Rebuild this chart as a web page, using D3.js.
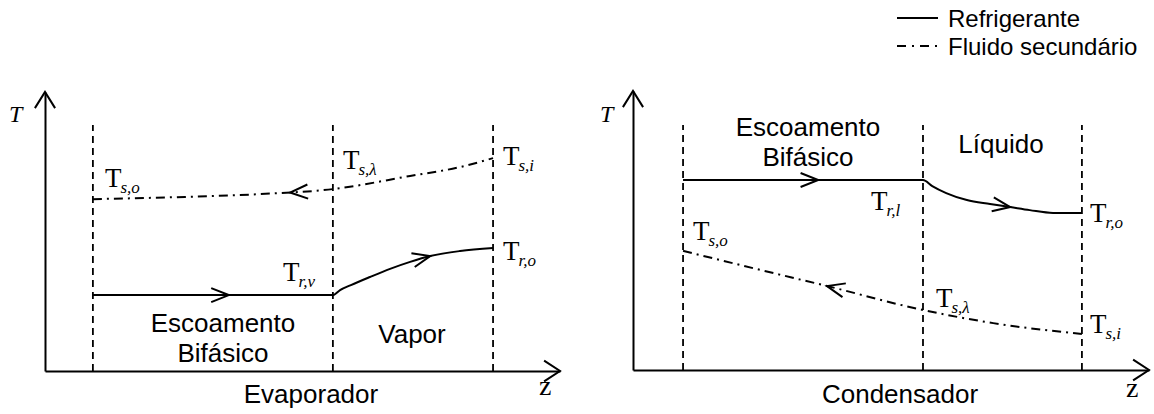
<!DOCTYPE html>
<html><head><meta charset="utf-8">
<script src="https://cdn.jsdelivr.net/npm/d3@7"></script>
<style>body{margin:0;background:#fff} svg{display:block}</style>
</head><body><svg id="c" width="1154" height="414"></svg>
<script>
// ---------- Evaporador (values in % of axis length) ----------
const evapBoundaries = [9.3, 55.9, 87.0];
const evapRefZ = [9.3, 55.9, 57.3, 59.4, 63.1, 67.0, 70.9, 74.8, 80.6, 87.0];
const evapRefT = [27.2, 27.2, 29.0, 30.8, 33.7, 36.6, 39.1, 41.2, 43.0, 44.1];
const evapSecZ = [9.3, 27.2, 41.6, 55.9, 70.9, 80.6, 87.0];
const evapSecT = [61.6, 62.4, 63.4, 65.2, 69.9, 73.1, 76.3];
const evapRefArrowZ = [35.7, 74.8];
const evapSecArrowZ = [47.6];
const evapRegions = [["Escoamento", "Bifásico"], ["Vapor"]];

// ---------- Condensador ----------
const condBoundaries = [9.7, 56.2, 87.0];
const condRefZ = [9.7, 56.2, 58.0, 60.7, 64.7, 69.2, 73.1, 76.9, 81.4, 87.0];
const condRefT = [68.1, 68.1, 65.9, 63.4, 60.9, 59.5, 58.4, 57.3, 56.3, 56.3];
const condSecZ = [9.7, 24.6, 37.6, 56.2, 69.8, 87.0];
const condSecT = [42.7, 35.9, 30.1, 21.5, 16.8, 12.9];
const condRefArrowZ = [35.9, 73.1];
const condSecArrowZ = [37.6];
const condRegions = [["Escoamento", "Bifásico"], ["Líquido"]];

const legendLabels = ["Refrigerante", "Fluido secundário"];
const panelTitles = ["Evaporador", "Condensador"];

const SANS = "'Liberation Sans', Arial, sans-serif";
const SERIF = "'Liberation Serif', 'Times New Roman', serif";
const DASH_DOT = "9,5,2,5";
const svg = d3.select("#c");

const panels = [
  { title: panelTitles[0], xr: [45, 560], yr: [371, 92], top: 88.2,
    bounds: evapBoundaries, refZ: evapRefZ, refT: evapRefT, secZ: evapSecZ, secT: evapSecT,
    refA: evapRefArrowZ, secA: evapSecArrowZ, regions: evapRegions,
    regionPos: [[223, 332], [412, 343]], titlePos: [311, 403], zPos: [539, 395], TPos: [9, 122],
    labels: [
      {t: "T", s: "s,o", x: 105, y: 187}, {t: "T", s: "s,λ", x: 343, y: 169},
      {t: "T", s: "s,i", x: 503, y: 165}, {t: "T", s: "r,v", x: 283, y: 281},
      {t: "T", s: "r,o", x: 503, y: 260}] },
  { title: panelTitles[1], xr: [633, 1149], yr: [370, 91], top: 87.8,
    bounds: condBoundaries, refZ: condRefZ, refT: condRefT, secZ: condSecZ, secT: condSecT,
    refA: condRefArrowZ, secA: condSecArrowZ, regions: condRegions,
    regionPos: [[808, 136], [1001, 153]], titlePos: [900, 403], zPos: [1126, 397], TPos: [600, 122],
    labels: [
      {t: "T", s: "r,l", x: 871, y: 210}, {t: "T", s: "r,o", x: 1090, y: 222},
      {t: "T", s: "s,o", x: 693, y: 240}, {t: "T", s: "s,λ", x: 936, y: 307},
      {t: "T", s: "s,i", x: 1090, y: 333}] }
];

function chevron(g, tip, ang, len, spread) {
  const back = ang + Math.PI;
  const p1 = [tip[0] + len * Math.cos(back + spread), tip[1] + len * Math.sin(back + spread)];
  const p2 = [tip[0] + len * Math.cos(back - spread), tip[1] + len * Math.sin(back - spread)];
  g.append("path").attr("d", `M${p1}L${tip}L${p2}`)
    .attr("fill", "none").attr("stroke", "#000").attr("stroke-width", 2)
    .attr("stroke-linejoin", "miter");
}

function pointAtX(pathNode, xt) {
  const L = pathNode.getTotalLength();
  let lo = 0, hi = L;
  for (let i = 0; i < 40; i++) {
    const m = (lo + hi) / 2;
    if (pathNode.getPointAtLength(m).x < xt) lo = m; else hi = m;
  }
  const l = (lo + hi) / 2;
  const p = pathNode.getPointAtLength(l);
  const a = pathNode.getPointAtLength(Math.max(0, l - 2));
  const b = pathNode.getPointAtLength(Math.min(L, l + 2));
  return { p: [p.x, p.y], ang: Math.atan2(b.y - a.y, b.x - a.x) };
}

panels.forEach(P => {
  const x = d3.scaleLinear().domain([0, 100]).range(P.xr);
  const y = d3.scaleLinear().domain([0, 100]).range(P.yr);
  const g = svg.append("g");

  const ax = g.append("g").attr("transform", `translate(0,${y(0)})`)
    .call(d3.axisBottom(x).tickValues([]).tickSizeOuter(0));
  const ay = g.append("g").attr("transform", `translate(${x(0)},0)`)
    .call(d3.axisLeft(y).tickValues([]).tickSizeOuter(0));
  [ax, ay].forEach(a => a.select(".domain").attr("stroke", "#000").attr("stroke-width", 2));
  chevron(g, [x(100), y(0)], 0, 19, 0.58);
  chevron(g, [x(0), y(100)], -Math.PI / 2, 19, 0.56);

  g.selectAll(".bd").data(P.bounds).join("line")
    .attr("x1", d => x(d)).attr("x2", d => x(d))
    .attr("y1", y(0)).attr("y2", y(P.top))
    .attr("stroke", "#000").attr("stroke-width", 1.8).attr("stroke-dasharray", "7,5");

  const line = d3.line().x(d => x(d[0])).y(d => y(d[1])).curve(d3.curveMonotoneX);
  const ref = g.append("path").datum(P.refZ.map((z, i) => [z, P.refT[i]]))
    .attr("d", line).attr("fill", "none").attr("stroke", "#000").attr("stroke-width", 2);
  const sec = g.append("path").datum(P.secZ.map((z, i) => [z, P.secT[i]]))
    .attr("d", line).attr("fill", "none").attr("stroke", "#000").attr("stroke-width", 2)
    .attr("stroke-dasharray", DASH_DOT);

  P.refA.forEach(z => { const r = pointAtX(ref.node(), x(z)); chevron(g, r.p, r.ang, 19, 0.38); });
  P.secA.forEach(z => { const r = pointAtX(sec.node(), x(z)); chevron(g, r.p, r.ang + Math.PI, 19, 0.38); });

  P.regions.forEach((lines, i) => {
    const [cx, by] = P.regionPos[i];
    lines.forEach((t, j) => {
      g.append("text").attr("x", cx).attr("y", by + j * 30)
        .attr("text-anchor", "middle").attr("font-family", SANS).attr("font-size", 26).text(t);
    });
  });
  g.append("text").attr("x", P.titlePos[0]).attr("y", P.titlePos[1])
    .attr("text-anchor", "middle").attr("font-family", SANS).attr("font-size", 26).text(P.title);
  g.append("text").attr("x", P.zPos[0]).attr("y", P.zPos[1])
    .attr("font-family", SERIF).attr("font-size", 28).text("z");
  g.append("text").attr("x", P.TPos[0]).attr("y", P.TPos[1])
    .attr("font-family", SERIF).attr("font-style", "italic").attr("font-size", 24).text("T");

  P.labels.forEach(L => {
    const t = g.append("text").attr("x", L.x).attr("y", L.y)
      .attr("font-family", SERIF).attr("font-size", 27).text(L.t);
    t.append("tspan").attr("dy", 6).attr("font-size", 17).attr("font-style", "italic")
      .attr("dx", -1).text(L.s);
  });
});

// legend
const lg = svg.append("g");
legendLabels.forEach((lab, i) => {
  const yy = 18 + i * 28;
  lg.append("line").attr("x1", 897).attr("x2", 938).attr("y1", yy).attr("y2", yy)
    .attr("stroke", "#000").attr("stroke-width", 2)
    .attr("stroke-dasharray", i === 0 ? null : "9,6,2,6");
  lg.append("text").attr("x", 948).attr("y", yy + 9)
    .attr("font-family", SANS).attr("font-size", 24).text(lab);
});
</script></body></html>
